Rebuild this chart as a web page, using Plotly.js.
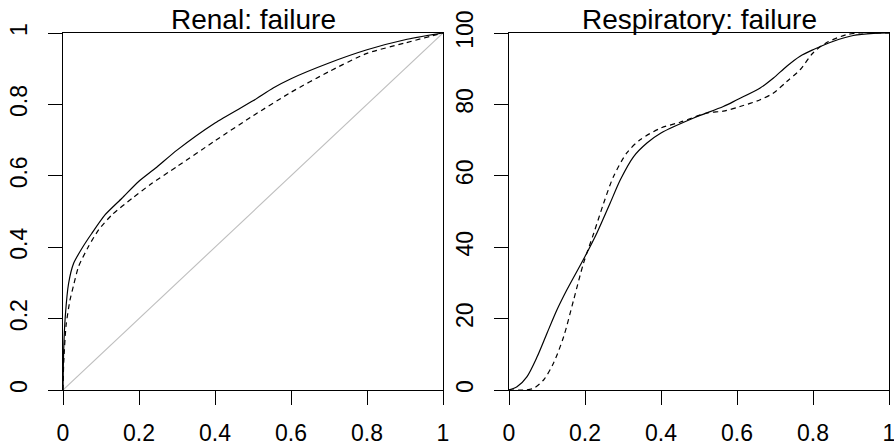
<!DOCTYPE html>
<html>
<head>
<meta charset="utf-8">
<script src="https://cdn.plot.ly/plotly-3.0.1.min.js"></script>
<style>html,body{margin:0;padding:0;background:#fff;}#chart{width:894px;height:448px;}</style>
</head>
<body>
<div id="chart"></div>
<script>
// Left panel: Renal: failure
const renalSolidX = [0, 0.0018, 0.006, 0.0148, 0.028, 0.05, 0.076, 0.111, 0.155, 0.199, 0.243, 0.3, 0.4, 0.5, 0.553, 0.6, 0.7, 0.8, 0.9, 1];
const renalSolidY = [0, 0.112, 0.206, 0.299, 0.355, 0.397, 0.439, 0.491, 0.537, 0.584, 0.621, 0.672, 0.748, 0.81, 0.846, 0.872, 0.916, 0.953, 0.981, 1];
const renalDashX = [0, 0.002, 0.008, 0.018, 0.028, 0.041, 0.067, 0.094, 0.129, 0.182, 0.234, 0.3, 0.4, 0.5, 0.6, 0.7, 0.8, 0.9, 1];
const renalDashY = [0, 0.08, 0.18, 0.25, 0.294, 0.346, 0.402, 0.449, 0.491, 0.537, 0.579, 0.626, 0.698, 0.768, 0.834, 0.892, 0.943, 0.972, 1];
const refX = [0, 1];
const refY = [0, 1];
// Right panel: Respiratory: failure
const respSolidX = [0, 0.021, 0.047, 0.074, 0.1, 0.126, 0.152, 0.2, 0.231, 0.266, 0.293, 0.328, 0.363, 0.4, 0.486, 0.564, 0.6, 0.661, 0.696, 0.731, 0.766, 0.8, 0.854, 0.906, 0.959, 1];
const respSolidY = [0, 0.9, 3.7, 9.3, 15.9, 22.4, 28, 37.4, 43.9, 52.3, 58.9, 65.4, 69.2, 72, 76.2, 79.4, 81.3, 84.6, 87.4, 90.7, 93.5, 95.3, 97.7, 99.3, 99.9, 100];
const respDashX = [0, 0.04, 0.065, 0.091, 0.117, 0.144, 0.17, 0.196, 0.223, 0.249, 0.275, 0.31, 0.345, 0.4, 0.45, 0.521, 0.564, 0.608, 0.661, 0.696, 0.731, 0.766, 0.8, 0.834, 0.887, 0.924, 1];
const respDashY = [0, 0, 0.5, 2.8, 7.5, 15, 25.2, 35.5, 43.9, 52.3, 59.8, 66.4, 70.1, 73.4, 75, 77.6, 78.1, 79.4, 81.3, 83.2, 86.4, 89.7, 94.4, 97.2, 99.5, 100, 100];
const titles = ["Renal: failure", "Respiratory: failure"];
const xTicks = [0, 0.2, 0.4, 0.6, 0.8, 1];
const xTickText = ["0", "0.2", "0.4", "0.6", "0.8", "1"];
const yTicksL = [0, 0.2, 0.4, 0.6, 0.8, 1];
const yTickTextL = ["0", "0.2", "0.4", "0.6", "0.8", "1"];
const yTicksR = [0, 20, 40, 60, 80, 100];
const yTickTextR = ["0", "20", "40", "60", "80", "100"];

const FONT = "Liberation Sans, Arial, Helvetica, sans-serif";
const solid = {color: "#000", width: 1.2};
const dashed = {color: "#000", width: 1.2, dash: "5px,4px"};

const traces = [
  {x: refX, y: refY, xaxis: "x", yaxis: "y", mode: "lines", line: {color: "#bebebe", width: 1.1}, hoverinfo: "skip"},
  {x: renalDashX, y: renalDashY, xaxis: "x", yaxis: "y", mode: "lines", line: Object.assign({shape: "spline", smoothing: 0.6}, dashed)},
  {x: renalSolidX, y: renalSolidY, xaxis: "x", yaxis: "y", mode: "lines", line: Object.assign({shape: "spline", smoothing: 0.6}, solid)},
  {x: respDashX, y: respDashY, xaxis: "x2", yaxis: "y2", mode: "lines", line: Object.assign({shape: "spline", smoothing: 0.8}, dashed)},
  {x: respSolidX, y: respSolidY, xaxis: "x2", yaxis: "y2", mode: "lines", line: Object.assign({shape: "spline", smoothing: 0.8}, solid)}
];

function xa(domain) {
  return {domain: domain, range: [0, 1], tickvals: xTicks, ticktext: xTickText, ticks: "outside", ticklen: 14, tickwidth: 1, tickcolor: "#000",
    showline: true, mirror: true, linecolor: "#000", linewidth: 1, showgrid: false, zeroline: false, ticklabeloverflow: "allow",
    tickfont: {family: FONT, size: 23, color: "#000"}, ticklabelstandoff: 8, fixedrange: true};
}
function ya(anchor, range, vals, text) {
  return {anchor: anchor, domain: [0, 1], range: range, tickvals: vals, ticktext: text, ticks: "outside", ticklen: 14, tickwidth: 1, tickcolor: "#000",
    showline: true, mirror: true, linecolor: "#000", linewidth: 1, showgrid: false, zeroline: false, tickangle: -90, ticklabeloverflow: "allow",
    tickfont: {family: FONT, size: 23, color: "#000"}, ticklabelstandoff: 12, fixedrange: true};
}
const dL = [0, 380/826];
const dR = [446/826, 1];
const layout = {
  width: 894, height: 448,
  margin: {l: 63, r: 5, t: 33, b: 58},
  paper_bgcolor: "#fff", plot_bgcolor: "#fff",
  showlegend: false,
  xaxis: Object.assign(xa(dL), {anchor: "y"}),
  yaxis: ya("x", [0, 1], yTicksL, yTickTextL),
  xaxis2: Object.assign(xa(dR), {anchor: "y2"}),
  yaxis2: ya("x2", [0, 100], yTicksR, yTickTextR),
  annotations: [
    {text: titles[0], xref: "paper", yref: "paper", x: (dL[0] + dL[1]) / 2, y: 1, xanchor: "center", yanchor: "bottom", yshift: -4, showarrow: false, font: {family: FONT, size: 28, color: "#000"}},
    {text: titles[1], xref: "paper", yref: "paper", x: (dR[0] + dR[1]) / 2, y: 1, xanchor: "center", yanchor: "bottom", yshift: -4, showarrow: false, font: {family: FONT, size: 28, color: "#000"}}
  ]
};
Plotly.newPlot("chart", traces, layout, {displayModeBar: false, staticPlot: true});
</script>
</body>
</html>
